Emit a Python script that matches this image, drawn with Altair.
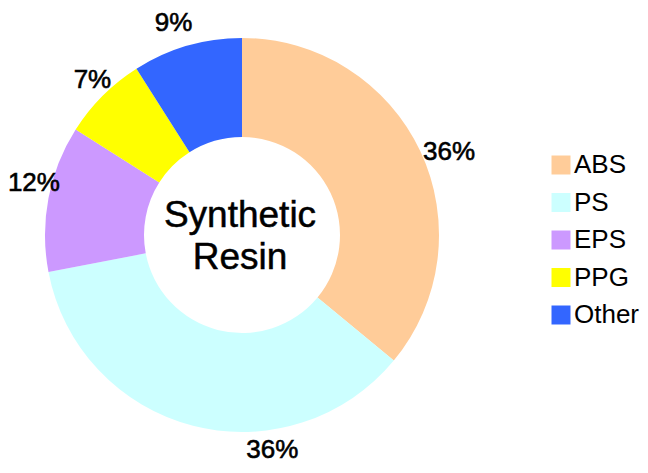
import altair as alt
import pandas as pd

categories = ["ABS", "PS", "EPS", "PPG", "Other"]
shares = [36, 36, 12, 7, 9]
labels = ["36%", "36%", "12%", "7%", "9%"]
colors = ["#FFCC99", "#CCFFFF", "#CC99FF", "#FFFF00", "#3366FF"]

df = pd.DataFrame({
    "category": categories,
    "share": shares,
    "label": labels,
    "order": list(range(len(categories))),
})

FONT = "Liberation Sans"
CX, CY = 234, 227

base = alt.Chart(df).encode(
    theta=alt.Theta("share:Q", stack=True),
    order=alt.Order("order:Q"),
)

arcs = base.mark_arc(outerRadius=197, innerRadius=98, stroke=None).encode(
    color=alt.Color(
        "category:N",
        scale=alt.Scale(domain=categories, range=colors),
        sort=categories,
        legend=alt.Legend(
            title=None,
            orient="none",
            legendX=540,
            legendY=144,
            symbolType="square",
            symbolSize=361,
            symbolStrokeWidth=0,
            labelFont=FONT,
            labelFontSize=26,
            labelColor="black",
            labelOffset=0,
            labelLimit=300,
            rowPadding=11.5,
            padding=0,
        ),
    ),
    x=alt.value(CX),
    y=alt.value(CY),
)

offsets = {"ABS": (8, 11), "PS": (85, 2), "EPS": (8, -11), "PPG": (6, 1), "Other": (-7, -1)}
label_layers = []
for cat in categories:
    dx, dy = offsets[cat]
    label_layers.append(
        base.mark_text(radius=220, font=FONT, fontSize=26, color="black",
                       stroke="black", strokeWidth=0.6,
                       align="center", baseline="middle", dx=dx, dy=dy)
        .encode(text="label:N", x=alt.value(CX), y=alt.value(CY),
                opacity=alt.condition(alt.datum.category == cat, alt.value(1), alt.value(0)))
    )

center = alt.Chart(pd.DataFrame({"t": ["Synthetic Resin"]})).mark_text(
    font=FONT, fontSize=37, color="black", stroke="black", strokeWidth=0.5,
    align="center", baseline="alphabetic", lineHeight=42,
).encode(
    text=alt.Text("t:N"),
    x=alt.value(CX - 2),
    y=alt.value(CY - 8),
).transform_calculate(t="['Synthetic', 'Resin']")

chart = alt.layer(arcs, *label_layers, center).properties(
    width=632, height=457, padding=0, autosize=alt.AutoSizeParams(type="none")
).configure_view(stroke=None)

chart.save("out.html", embed_options={"renderer": "svg", "actions": False})
